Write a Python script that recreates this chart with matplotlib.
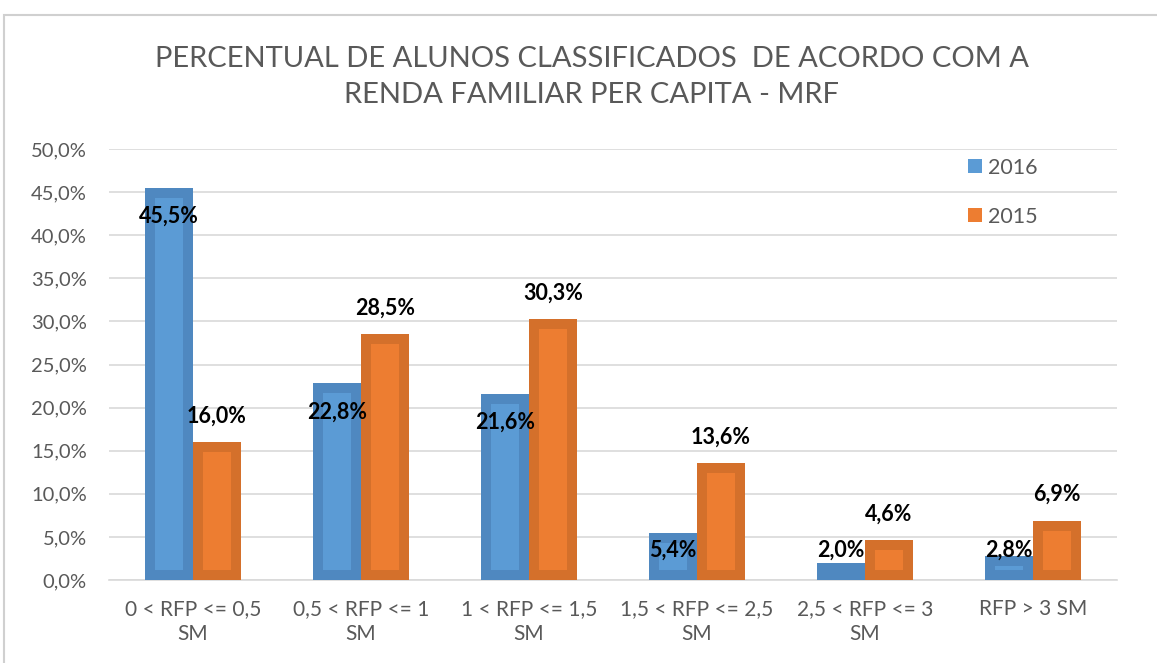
import numpy as np
import matplotlib.pyplot as plt
from matplotlib.patches import Rectangle
from matplotlib.ticker import FuncFormatter

plt.rcParams['font.family'] = ['Lato', 'DejaVu Sans']

# data
categories = ['0 < RFP <= 0,5\nSM', '0,5 < RFP <= 1\nSM', '1 < RFP <= 1,5\nSM',
              '1,5 < RFP <= 2,5\nSM', '2,5 < RFP <= 3\nSM', 'RFP > 3 SM']
v2016 = [45.5, 22.8, 21.6, 5.4, 2.0, 2.8]
v2015 = [16.0, 28.5, 30.3, 13.6, 4.6, 6.9]

fig = plt.figure(figsize=(11.57, 6.63), dpi=100)
# outer chart frame
fig.patches.append(Rectangle((4/1157, -0.05), 1.1, 1 - 15/663 + 0.05, transform=fig.transFigure,
                             fill=False, edgecolor='#d0d0d0', linewidth=1.5))

ax = fig.add_axes([109/1157, 1 - 580/663, 1008/1157, 431/663])

x = np.arange(len(categories))
w = 0.286
gray = '#595959'

def draw(xs, vals, face, edge, label):
    bars = ax.bar(xs, vals, w, color=face, edgecolor=edge, linewidth=14.4, label=label, zorder=3)
    for b in bars:
        b.set_clip_path(b)
    return bars

b1 = draw(x - w/2, v2016, '#5b9bd5', '#4f88c0', '2016')
b2 = draw(x + w/2, v2015, '#ed7d31', '#d4702b', '2015')

lbl = dict(ha='center', va='center', fontsize=15.5, fontweight='bold', color='black', zorder=5)
for xi, v in zip(x - w/2, v2016):
    ax.text(xi, max(v, 6.8) - 3.3, f'{v:.1f}%'.replace('.', ','), **lbl)
for xi, v in zip(x + w/2, v2015):
    ax.text(xi, v + 3.0, f'{v:.1f}%'.replace('.', ','), **lbl)

ax.set_xlim(-0.5, len(categories) - 0.5)
ax.set_ylim(0, 50)
ax.set_yticks(np.arange(0, 50.1, 5))
ax.yaxis.set_major_formatter(FuncFormatter(lambda v, p: f'{v:.1f}%'.replace('.', ',')))
ax.set_xticks(x)
ax.set_xticklabels(categories, linespacing=1.3)
ax.grid(axis='y', color='#d9d9d9', linewidth=1.2, zorder=0)
for s in ['top', 'right', 'left']:
    ax.spines[s].set_visible(False)
ax.spines['bottom'].set_color('#d9d9d9')
ax.spines['bottom'].set_linewidth(1.2)
ax.tick_params(axis='x', length=0, labelsize=15, labelcolor=gray, pad=14)
ax.tick_params(axis='y', length=0, labelsize=14.5, labelcolor=gray, pad=16)

leg = ax.legend(loc='upper right', bbox_to_anchor=(0.94, 1.025), frameon=False, fontsize=15.5,
                handlelength=0.65, handleheight=0.65, handletextpad=0.25, labelspacing=1.35)
for t in leg.get_texts():
    t.set_color(gray)
for h in leg.legend_handles:
    h.set_linewidth(0)

fig.text(592/1157, 1 - 77/663, 'PERCENTUAL DE ALUNOS CLASSIFICADOS  DE ACORDO COM A\nRENDA FAMILIAR PER CAPITA - MRF',
         ha='center', va='center', fontsize=21, color=gray, linespacing=1.5)

fig.savefig('out.png', dpi=100, facecolor='white')
